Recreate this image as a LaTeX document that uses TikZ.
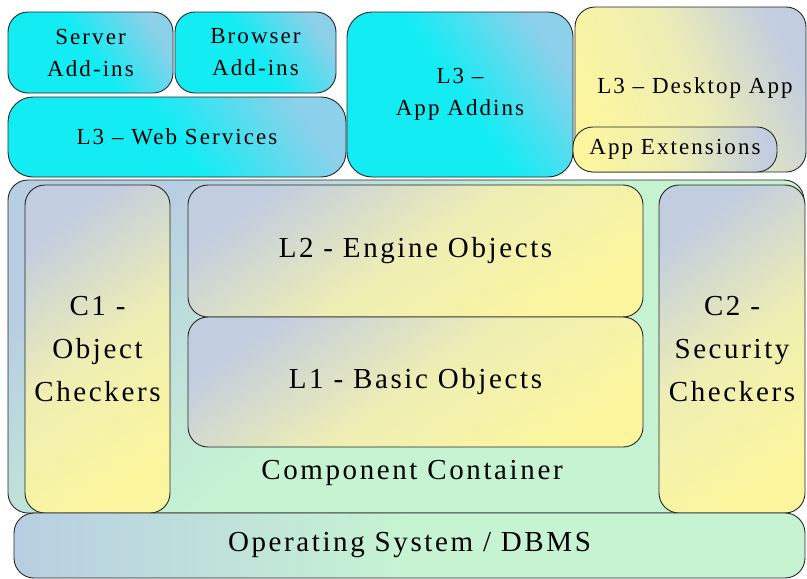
\documentclass[tikz,border=0pt]{standalone}
\usepackage{fontspec}
\setmainfont{Liberation Serif}[LetterSpace=9]
\begin{document}
\begin{tikzpicture}[x=1pt,y=-1pt]
% palette
\definecolor{cyanA}{RGB}{20,236,244}
\definecolor{cyanB}{RGB}{140,208,234}
\definecolor{yelA}{RGB}{251,246,158}
\definecolor{yelM}{RGB}{238,238,180}
\definecolor{greyB}{RGB}{194,205,224}
\definecolor{grnA}{RGB}{198,244,210}
\definecolor{grnB}{RGB}{184,206,226}
\tikzset{
  box/.style={draw=black!85, line width=0.9pt, rounded corners=20pt,
    inner sep=0pt, align=center},
  smalltxt/.style={font=\fontsize{23}{32}\selectfont},
  bigtxt/.style={font=\fontsize{29}{43}\selectfont},
  cyanbox/.style={box, smalltxt, top color=cyanB, bottom color=cyanA,
    middle color=cyanA, shading angle=-55},
  yelbox/.style={box, bigtxt, top color=greyB, bottom color=yelA,
    middle color=yelM, shading angle=35},
  deskbox/.style={box, smalltxt, top color=greyB, bottom color=yelA,
    middle color=yelM, shading angle=-65},
  sz/.style 2 args={minimum width=#1pt, minimum height=#2pt},
}
\useasboundingbox (0,0) rectangle (807,579);
\clip (0,0) rectangle (807,579);
\fill[white] (0,0) rectangle (807,579);

% upper tier
\node[cyanbox, sz={165}{81}] (srv) at (90.5,52.5) {Server\\Add-ins};
\node[cyanbox, sz={161}{81}] (brw) at (255.5,52.5) {Browser\\Add-ins};
\node[cyanbox, sz={338}{80}, rounded corners=25pt] (web) at (177,137) {L3 -- Web Services};
\node[cyanbox, sz={226}{165}, rounded corners=25pt] (app) at (460,94.5) {L3 --\\App Addins};
\node[deskbox, sz={231}{165}] (desk) at (690.5,89.5) {};
\node[smalltxt] (desktxt) at (695,88) {L3 -- Desktop App};
\node[deskbox, sz={204}{45}, shading angle=-80] (ext) at (675,149.5) {App Extensions};

% component container
\node[box, bigtxt, sz={796}{333}, top color=grnB, bottom color=grnA,
  middle color=grnA, shading angle=40] (cont) at (406,346.5) {};
\node[bigtxt] (conttxt) at (412,473) {Component Container};
\node[yelbox, sz={145}{328}] (c1) at (97.5,349) {C1 -\\Object\\Checkers};
\node[yelbox, sz={146}{328}] (c2) at (732,349) {C2 -\\Security\\Checkers};
\node[yelbox, sz={455}{132}] (l2) at (415.5,251) {L2 - Engine Objects};
\node[yelbox, sz={455}{130}] (l1) at (415.5,382) {L1 - Basic Objects};

% base layer
\node[box, bigtxt, sz={791}{65}, left color=grnB, right color=grnA,
  middle color=grnA] (os) at (409.5,545.5) {Operating System / DBMS};
\end{tikzpicture}
\end{document}
